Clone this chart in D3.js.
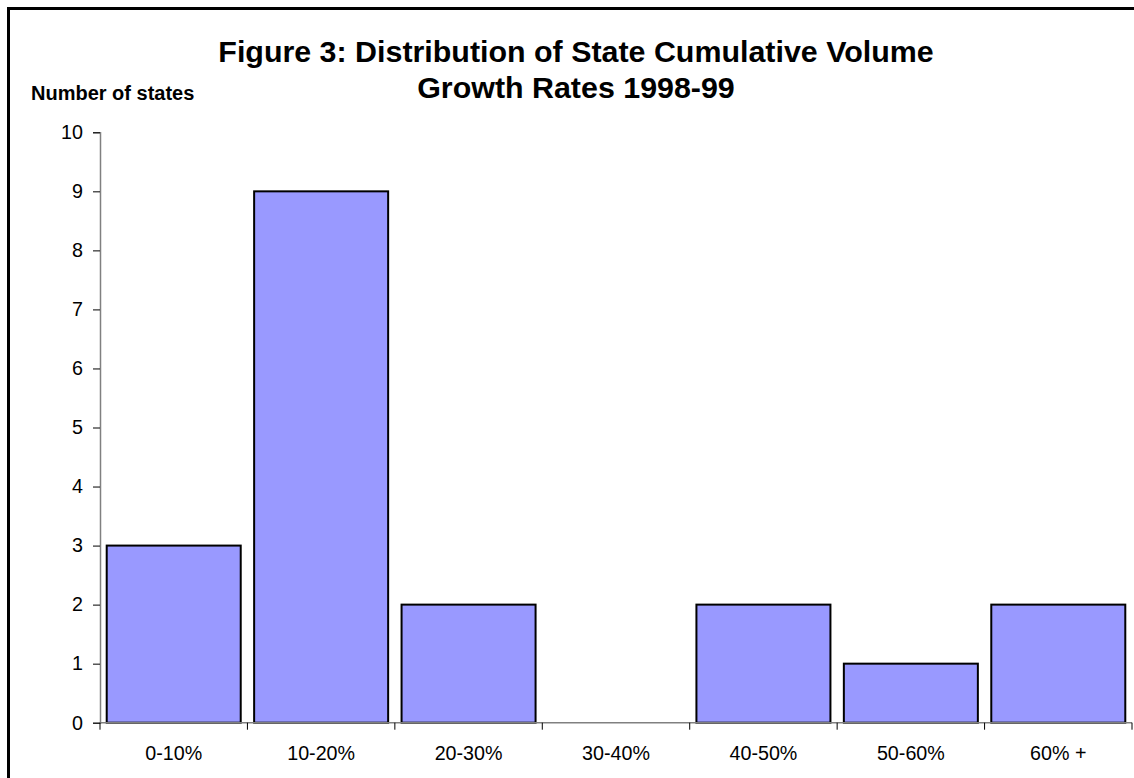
<!DOCTYPE html>
<html>
<head>
<meta charset="utf-8">
<script src="https://cdn.jsdelivr.net/npm/d3@7"></script>
<style>
  html, body { margin: 0; padding: 0; background: #fff; }
  svg { display: block; font-family: "Liberation Sans", Arial, sans-serif; }
</style>
</head>
<body>
<svg id="chart" width="1134" height="778"></svg>
<script>
const categories = ["0-10%", "10-20%", "20-30%", "30-40%", "40-50%", "50-60%", "60% +"];
const values = [3, 9, 2, 0, 2, 1, 2];
const yTicks = [0, 1, 2, 3, 4, 5, 6, 7, 8, 9, 10];
const titleLines = ["Figure 3: Distribution of State Cumulative Volume", "Growth Rates 1998-99"];
const yAxisTitle = "Number of states";

const svg = d3.select("#chart");
const W = 1134, H = 778;
const m = { left: 100, right: 2, top: 132.3, bottom: 55.3 };

// outer border
svg.append("rect")
  .attr("x", 8.5).attr("y", 8.5)
  .attr("width", W + 20).attr("height", H + 20)
  .attr("fill", "none").attr("stroke", "#000").attr("stroke-width", 3);

const x = d3.scaleBand()
  .domain(categories)
  .range([m.left, W - m.right])
  .paddingInner(0.091)
  .paddingOuter(0.0455);

const xb = d3.scaleBand().domain(categories).range([m.left, W - m.right]);

const y = d3.scaleLinear().domain([0, 10]).range([H - m.bottom, m.top]);

// bars
svg.append("g").selectAll("rect")
  .data(values.map((v, i) => ({ c: categories[i], v })).filter(d => d.v > 0))
  .join("rect")
  .attr("x", d => x(d.c))
  .attr("y", d => y(d.v))
  .attr("width", x.bandwidth())
  .attr("height", d => y(0) - y(d.v))
  .attr("fill", "#9999FF")
  .attr("stroke", "#000")
  .attr("stroke-width", 2);

// y axis
const yAxis = svg.append("g")
  .attr("transform", `translate(${m.left},0)`)
  .call(d3.axisLeft(y).tickValues(yTicks).tickFormat(d3.format("d")).tickSize(7).tickPadding(10));
yAxis.select(".domain").attr("stroke", "#808080").attr("stroke-width", 1.5);
yAxis.selectAll(".tick line").attr("stroke", "#000").attr("stroke-width", 1);
yAxis.selectAll("text").attr("font-size", 19.7).attr("fill", "#000")
  .attr("font-family", "Liberation Sans, Arial, sans-serif");

// x axis: line plus ticks at category boundaries
const xAxisG = svg.append("g").attr("transform", `translate(0,${y(0)})`);
xAxisG.append("line")
  .attr("x1", m.left).attr("x2", W - m.right)
  .attr("y1", 0).attr("y2", 0)
  .attr("stroke", "#808080").attr("stroke-width", 1.5);
const bounds = categories.map(c => xb(c)).concat([xb(categories[categories.length - 1]) + xb.bandwidth()]);
xAxisG.selectAll("line.tk").data(bounds).join("line")
  .attr("class", "tk")
  .attr("x1", d => d).attr("x2", d => d)
  .attr("y1", 0).attr("y2", 7)
  .attr("stroke", "#000").attr("stroke-width", 1);
xAxisG.selectAll("text").data(categories).join("text")
  .attr("x", d => xb(d) + xb.bandwidth() / 2)
  .attr("y", 37.5)
  .attr("text-anchor", "middle")
  .attr("font-size", 19.7)
  .attr("fill", "#000")
  .text(d => d);

// title
svg.append("g").selectAll("text").data(titleLines).join("text")
  .attr("x", 576)
  .attr("y", (d, i) => 61.5 + i * 36)
  .attr("text-anchor", "middle")
  .attr("font-size", 30.4)
  .attr("font-weight", "bold")
  .attr("fill", "#000")
  .text(d => d);

// y axis title
svg.append("text")
  .attr("x", 31)
  .attr("y", 100)
  .attr("font-size", 20)
  .attr("font-weight", "bold")
  .attr("fill", "#000")
  .text(yAxisTitle);
</script>
</body>
</html>
